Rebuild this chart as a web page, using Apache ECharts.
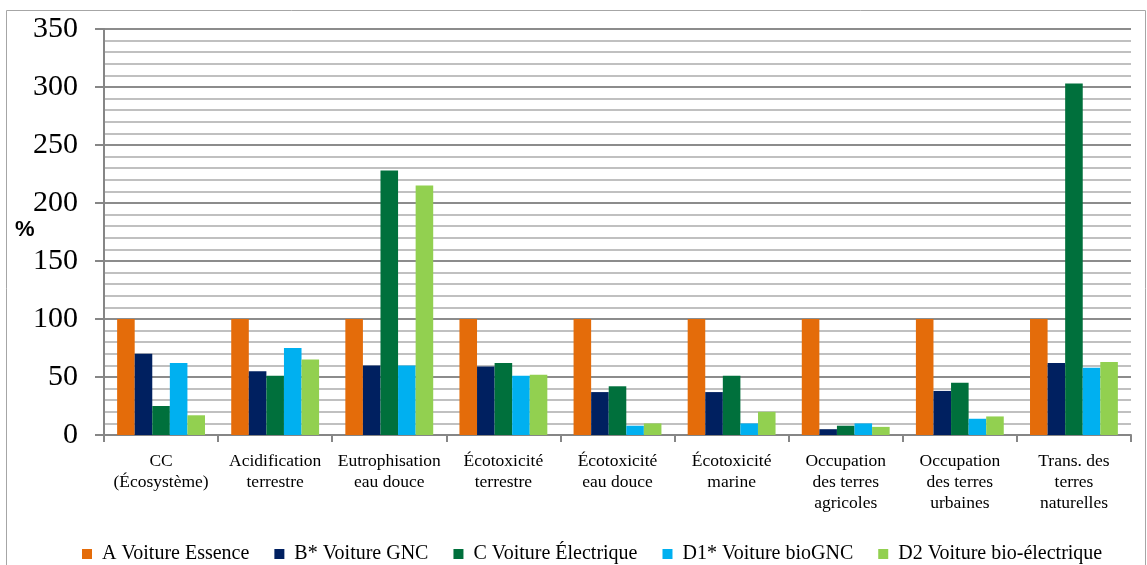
<!DOCTYPE html>
<html><head><meta charset="utf-8">
<script src="https://cdn.jsdelivr.net/npm/echarts@6/dist/echarts.min.js"></script>
<style>html,body{margin:0;padding:0;background:#fff}#c{width:1147px;height:565px}</style>
</head><body><div id="c"></div>
<script>
const categories = ["CC\n(Écosystème)","Acidification\nterrestre","Eutrophisation\neau douce","Écotoxicité\nterrestre","Écotoxicité\neau douce","Écotoxicité\nmarine","Occupation\ndes terres\nagricoles","Occupation\ndes terres\nurbaines","Trans. des\nterres\nnaturelles"];
const seriesNames = ["A Voiture Essence","B* Voiture GNC","C Voiture Électrique","D1* Voiture bioGNC","D2 Voiture bio-électrique"];
const A  = [100,100,100,100,100,100,100,100,100];
const B  = [70,55,60,59,37,37,5,38,62];
const C  = [25,51,228,62,42,51,8,45,303];
const D1 = [62,75,60,51,8,10,10,14,58];
const D2 = [17,65,215,52,10,20,7,16,63];
const colors = ["#E46C0A","#002060","#00703C","#00B0F0","#92D050"];
const yTicks = [0,50,100,150,200,250,300,350];

const chart = echarts.init(document.getElementById('c'));
const data = [A,B,C,D1,D2];
chart.setOption({
  animation:false,
  textStyle:{fontFamily:'Liberation Serif'},
  graphic:[
    {type:'rect',shape:{x:6.5,y:10.5,width:1139,height:560},style:{fill:'none',stroke:'#a6a6a6',lineWidth:1}},
    {type:'text',left:15,top:219,style:{text:'%',font:'bold 22px "Liberation Sans"',fill:'#000'}}
  ],
  legend:{top:539,left:77,itemWidth:10,itemHeight:10,itemGap:25,icon:'rect',
    textStyle:{fontSize:20,fontFamily:'Liberation Serif',color:'#000',padding:[0,0,0,5]},data:seriesNames},
  grid:{left:104,right:16,top:29,bottom:130,containLabel:false},
  xAxis:{type:'category',data:categories,
    axisLine:{lineStyle:{color:'#868686',width:2}},
    axisTick:{show:true,length:7,lineStyle:{color:'#868686',width:2}},
    axisLabel:{interval:0,fontSize:17.5,lineHeight:21,color:'#000',margin:16,fontFamily:'Liberation Serif'}},
  yAxis:{type:'value',min:0,max:350,interval:50,
    axisLine:{show:true,lineStyle:{color:'#868686',width:2}},
    axisTick:{show:true,length:9,lineStyle:{color:'#868686',width:2}},
    axisLabel:{fontSize:30,color:'#000',margin:26,fontFamily:'Liberation Serif',
      formatter:function(v){return yTicks.indexOf(v)>=0?String(v):'';}},
    splitLine:{show:true,lineStyle:{color:'#8c8c8c',width:2}},
    minorTick:{show:false,splitNumber:5},
    minorSplitLine:{show:true,lineStyle:{color:'#c0c0c0',width:2}}},
  series:seriesNames.map((n,i)=>({name:n,type:'bar',data:data[i],barGap:'0%',barCategoryGap:'23%',
    itemStyle:{color:colors[i]}}))
});
</script></body></html>
